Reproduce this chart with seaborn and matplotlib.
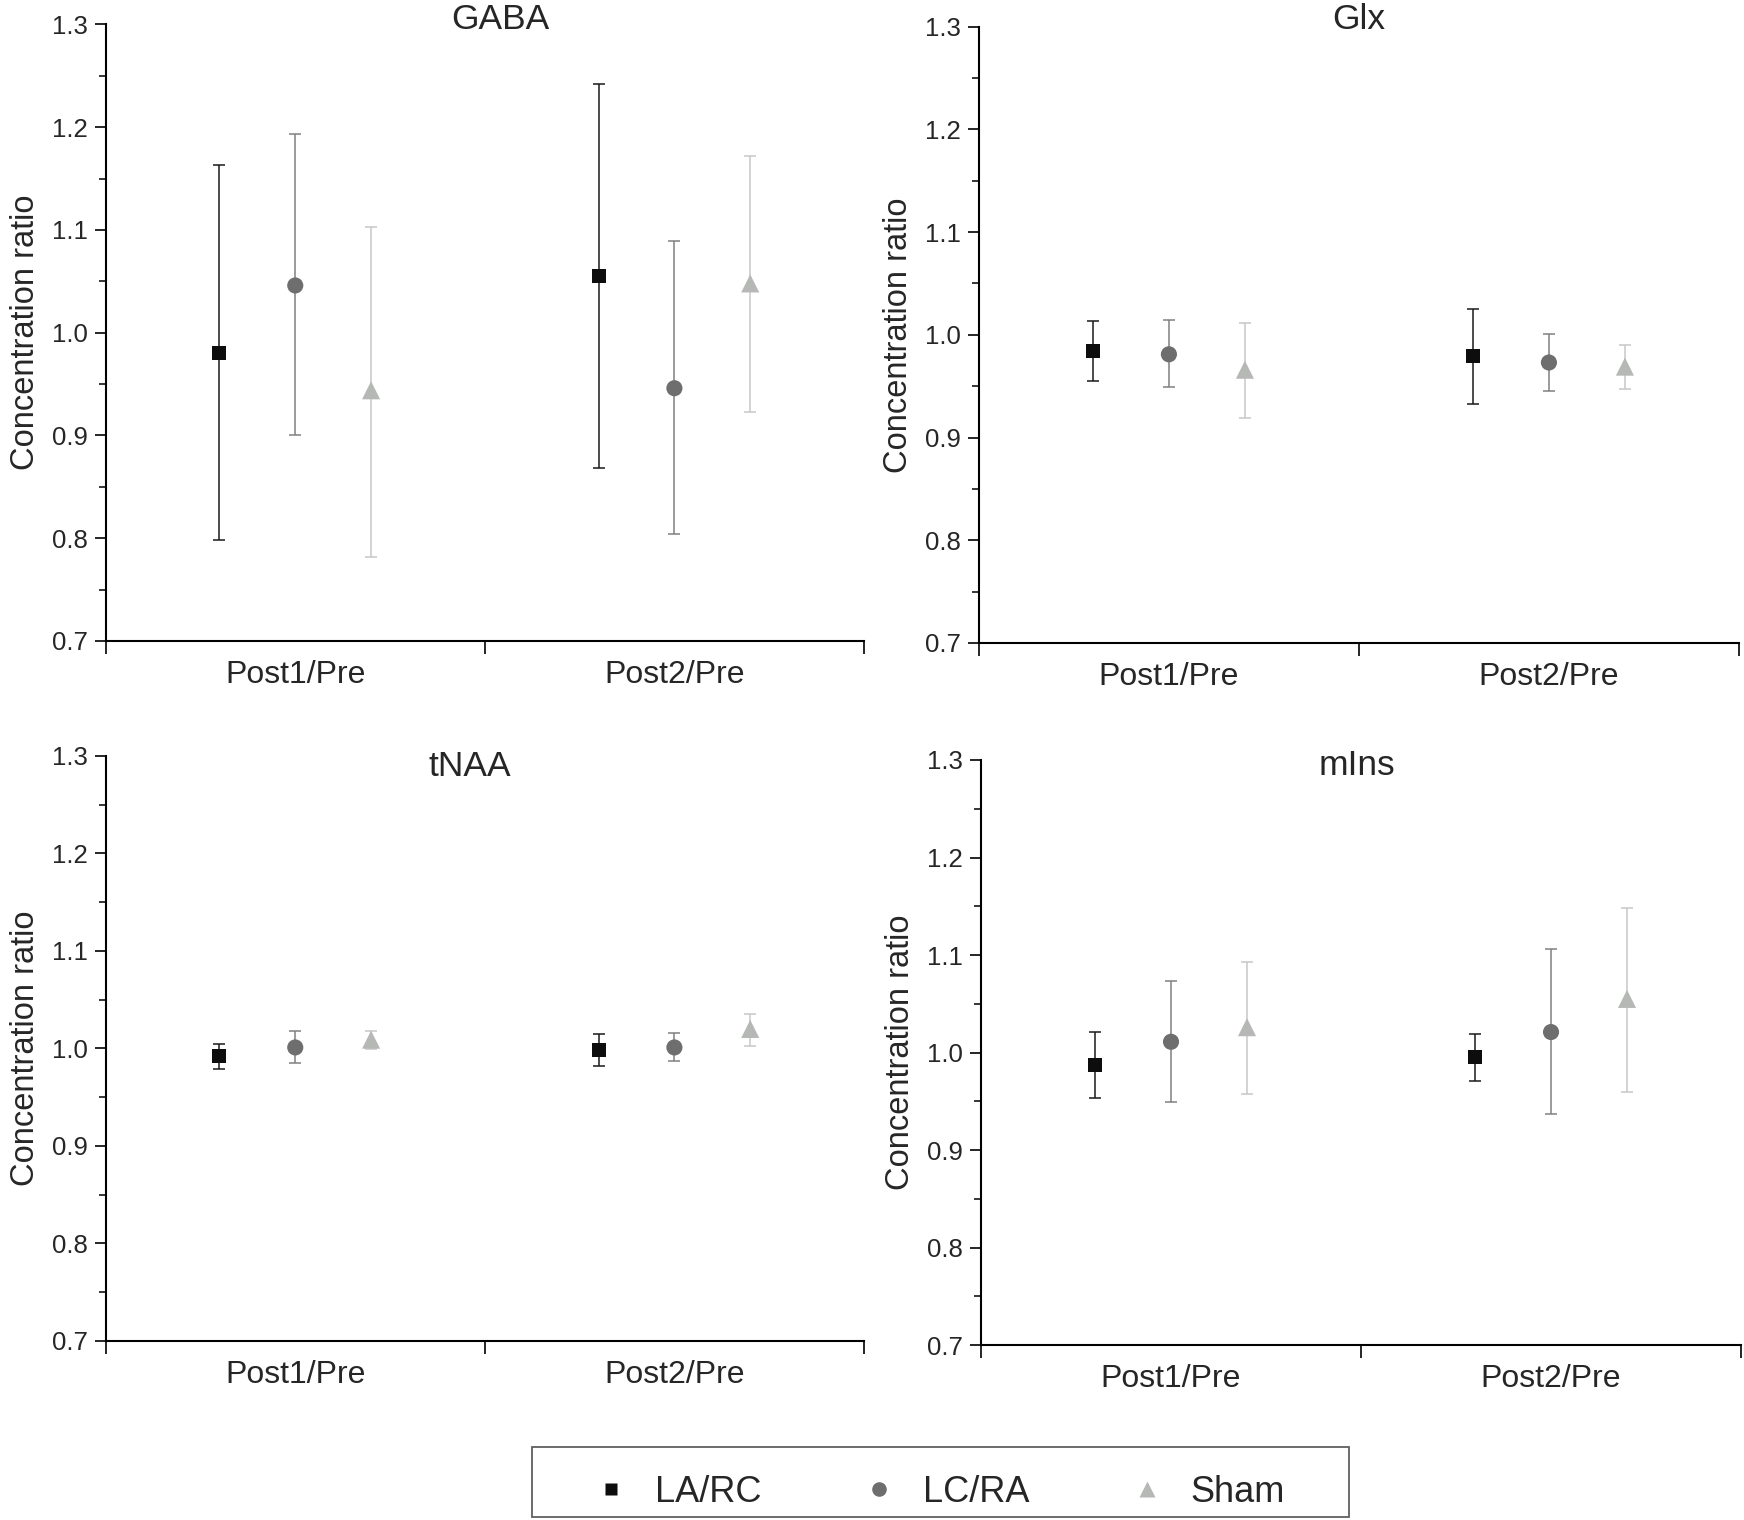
import pandas as pd
import matplotlib
matplotlib.use("Agg")
import matplotlib.pyplot as plt
import seaborn as sns
from matplotlib.lines import Line2D
from matplotlib.patches import Rectangle

# Data (mean, lower and upper end of error bar)
metabolites = ["GABA", "Glx", "tNAA", "mIns"]
timepoints = ["Post1/Pre", "Post2/Pre"]
groups = ["LA/RC", "LC/RA", "Sham"]

# order inside each list: [Post1 LA/RC, Post1 LC/RA, Post1 Sham, Post2 LA/RC, Post2 LC/RA, Post2 Sham]
gaba_mean = [0.980, 1.046, 0.944, 1.055, 0.946, 1.048]
gaba_low = [0.798, 0.900, 0.782, 0.868, 0.804, 0.923]
gaba_high = [1.163, 1.193, 1.103, 1.242, 1.089, 1.172]

glx_mean = [0.984, 0.981, 0.966, 0.979, 0.973, 0.969]
glx_low = [0.955, 0.949, 0.919, 0.933, 0.945, 0.947]
glx_high = [1.013, 1.014, 1.011, 1.025, 1.001, 0.990]

tnaa_mean = [0.992, 1.001, 1.009, 0.998, 1.001, 1.020]
tnaa_low = [0.979, 0.985, 0.999, 0.982, 0.987, 1.002]
tnaa_high = [1.005, 1.018, 1.018, 1.015, 1.016, 1.035]

mins_mean = [0.987, 1.011, 1.026, 0.995, 1.021, 1.055]
mins_low = [0.953, 0.949, 0.957, 0.971, 0.937, 0.960]
mins_high = [1.021, 1.073, 1.093, 1.019, 1.106, 1.148]

y_ticks = [0.7, 0.8, 0.9, 1.0, 1.1, 1.2, 1.3]

values = {
    "GABA": (gaba_mean, gaba_low, gaba_high),
    "Glx": (glx_mean, glx_low, glx_high),
    "tNAA": (tnaa_mean, tnaa_low, tnaa_high),
    "mIns": (mins_mean, mins_low, mins_high),
}

rows = []
for met in metabolites:
    m, lo, hi = values[met]
    k = 0
    for ti, tp in enumerate(timepoints):
        for gi, g in enumerate(groups):
            rows.append({"Metabolite": met, "Time": tp, "Group": g,
                         "t_idx": ti, "g_idx": gi,
                         "Mean": m[k], "Low": lo[k], "High": hi[k]})
            k += 1
df = pd.DataFrame(rows)
# category centres at 0.5 / 1.5, groups dodged by 0.2
df["x"] = df["t_idx"] + 0.5 + (df["g_idx"] - 1) * 0.2

marker_map = {"LA/RC": "s", "LC/RA": "o", "Sham": "^"}
face_map = {"LA/RC": "#0d0d0d", "LC/RA": "#6e6e6e", "Sham": "#b6b8b6"}
err_map = {"LA/RC": "#1a1a1a", "LC/RA": "#808080", "Sham": "#c8c8c8"}
size_map = {"LA/RC": 100, "LC/RA": 135, "Sham": 170}

sns.set_style("ticks")
plt.rcParams["font.family"] = ["Liberation Sans", "DejaVu Sans"]

fig = plt.figure(figsize=(17.44, 15.2), dpi=100)
positions = [
    [0.0606, 0.5783, 0.4348, 0.4056],
    [0.5613, 0.5770, 0.4358, 0.4055],
    [0.0606, 0.1178, 0.4348, 0.3849],
    [0.5625, 0.1151, 0.4358, 0.3849],
]
title_x = [0.52, 0.50, 0.48, 0.494]
title_y = [0.993, 0.996, 0.966, 0.975]

for i, met in enumerate(metabolites):
    ax = fig.add_axes(positions[i])
    sub = df[df["Metabolite"] == met]
    for g in groups:
        s = sub[sub["Group"] == g]
        ax.errorbar(s["x"], s["Mean"],
                    yerr=[s["Mean"] - s["Low"], s["High"] - s["Mean"]],
                    fmt="none", ecolor=err_map[g], elinewidth=1.1,
                    capsize=4.5, capthick=1.1, zorder=2)
        sns.scatterplot(data=s, x="x", y="Mean", marker=marker_map[g],
                        color=face_map[g], s=size_map[g], edgecolor="none",
                        ax=ax, zorder=3, legend=False)

    ax.set_xlim(0, 2)
    ax.set_ylim(0.7, 1.3)
    ax.set_yticks(y_ticks)
    ax.set_yticklabels([f"{v:.1f}" for v in y_ticks])
    ax.set_yticks([0.75, 0.85, 0.95, 1.05, 1.15, 1.25], minor=True)
    ax.set_xticks([0.5, 1.5])
    ax.set_xticklabels(timepoints)
    ax.set_xticks([0, 1, 2], minor=True)
    ax.tick_params(axis="x", which="major", length=0, pad=14, labelsize=23)
    ax.tick_params(axis="x", which="minor", length=9, width=1.4, direction="out")
    ax.tick_params(axis="y", which="major", length=8, width=1.4, pad=5, labelsize=18.5)
    ax.tick_params(axis="y", which="minor", length=5, width=1.3)
    ax.set_xlabel("")
    ax.set_ylabel("Concentration ratio", fontsize=23.5, labelpad=8)
    for sp in ["top", "right"]:
        ax.spines[sp].set_visible(False)
    for sp in ["left", "bottom"]:
        ax.spines[sp].set_linewidth(1.5)
        ax.spines[sp].set_color("black")
    ax.text(title_x[i], title_y[i], met, transform=ax.transAxes,
            ha="center", va="baseline", fontsize=25.5)

handles = [Line2D([], [], linestyle="none", marker=marker_map[g],
                  markerfacecolor=face_map[g], markeredgecolor="none",
                  markersize={"LA/RC": 8, "LC/RA": 10.5, "Sham": 11}[g], label=g)
           for g in groups]
leg = fig.legend(handles=handles, loc="center", bbox_to_anchor=(0.5384, 0.0184),
                 ncol=3, fontsize=26, frameon=False, handletextpad=0.72,
                 columnspacing=2.75, borderpad=0.0, handlelength=1.0)
fig.patches.append(Rectangle((0.3050, 0.0020), 0.4685, 0.0461,
                             transform=fig.transFigure, fill=False,
                             edgecolor="#606060", linewidth=1.3))

plt.savefig("out.png", dpi=100)
